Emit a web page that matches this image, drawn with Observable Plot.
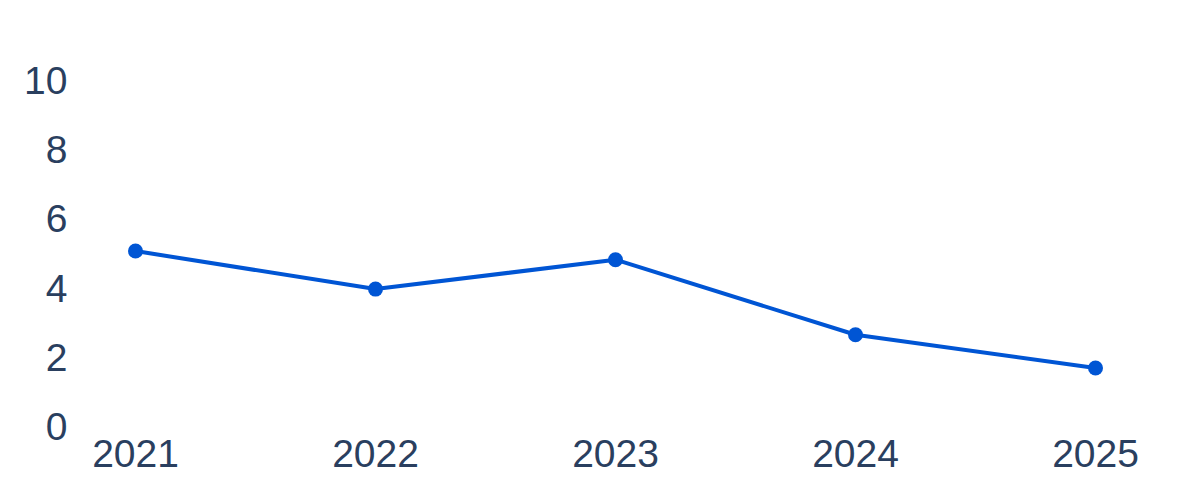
<!DOCTYPE html>
<html>
<head>
<meta charset="utf-8">
<script src="https://cdn.jsdelivr.net/npm/d3@7"></script>
<script src="https://cdn.jsdelivr.net/npm/@observablehq/plot@0.6"></script>
<style>
  html, body { margin: 0; padding: 0; background: #fff; }
  #chart svg { display: block; }
</style>
</head>
<body>
<div id="chart"></div>
<script>
const years = ["2021", "2022", "2023", "2024", "2025"];
const values = [5.1, 4.0, 4.85, 2.68, 1.72];
const yTicks = [0, 2, 4, 6, 8, 10];

const data = years.map((y, i) => ({year: y, value: values[i]}));
const lineColor = "#0055d4";
const textColor = "#2a3f5f";

const chart = Plot.plot({
  width: 1200,
  height: 500,
  marginLeft: 134,
  marginRight: 105,
  marginTop: 81,
  marginBottom: 73,
  style: {fontFamily: "'Liberation Sans', Arial, sans-serif", fontSize: "39px", color: textColor, background: "#fff"},
  x: {type: "point", domain: years, padding: 0},
  y: {domain: [0, 10]},
  marks: [
    Plot.axisY({ticks: yTicks, tickSize: 0, tickPadding: 67, fontSize: 39, fill: textColor, label: null}),
    Plot.axisX({tickSize: 0, tickPadding: 12, fontSize: 39, fill: textColor, label: null}),
    Plot.line(data, {x: "year", y: "value", stroke: lineColor, strokeWidth: 4}),
    Plot.dot(data, {x: "year", y: "value", fill: lineColor, r: 7.5, stroke: "none"})
  ]
});
document.getElementById("chart").appendChild(chart);
</script>
</body>
</html>
